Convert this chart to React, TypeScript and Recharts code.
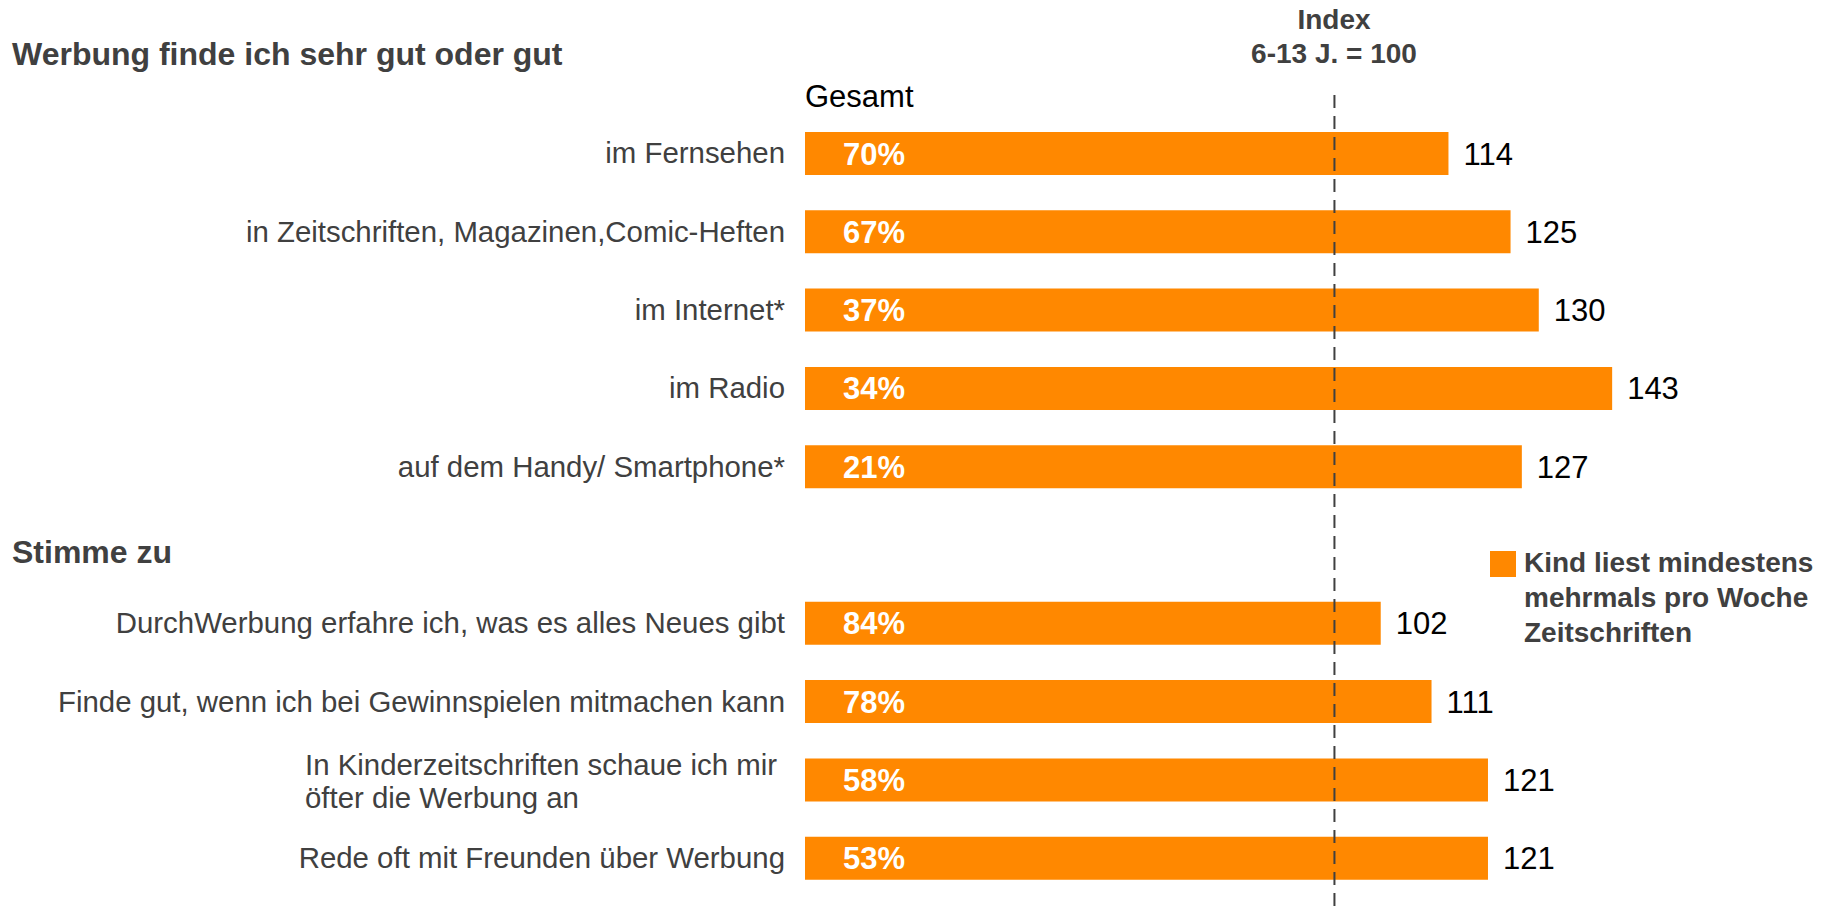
import React from 'react';
import { BarChart, Bar, XAxis, YAxis, LabelList, ReferenceLine, Legend } from 'recharts';

const categories = [
  'im Fernsehen',
  'in Zeitschriften, Magazinen,Comic-Heften',
  'im Internet*',
  'im Radio',
  'auf dem Handy/ Smartphone*',
  '',
  'DurchWerbung erfahre ich, was es alles Neues gibt',
  'Finde gut, wenn ich bei Gewinnspielen mitmachen kann',
  'In Kinderzeitschriften schaue ich mir\nöfter die Werbung an',
  'Rede oft mit Freunden über Werbung',
];
const gesamtPct: (number | null)[] = [70, 67, 37, 34, 21, null, 84, 78, 58, 53];
const indexValues: (number | null)[] = [114, 125, 130, 143, 127, null, 102, 111, 121, 121];
const sectionTitles = ['Werbung finde ich sehr gut oder gut', 'Stimme zu'];
const indexTitle = ['Index', '6-13 J. = 100'];
const gesamtTitle = 'Gesamt';
const seriesName = ['Kind liest mindestens', 'mehrmals pro Woche', 'Zeitschriften'];
const indexLineValue = 93.8;

const data = categories.map((c, i) => ({ name: c, gesamt: gesamtPct[i], index: indexValues[i] }));

const ORANGE = '#FF8800';
const GREY = '#404040';
const FONT = '"Liberation Sans", Arial, sans-serif';

const CategoryTick = (props: any) => {
  const { x, y, payload } = props;
  const value = String(payload?.value ?? '');
  if (!value) return null;
  const lines = value.split('\n');
  if (lines.length === 1) {
    return (
      <text x={x} y={y} dy="0.35em" textAnchor="end" fill={GREY} fontSize={29.4} fontFamily={FONT}>
        {value}
      </text>
    );
  }
  const left = x - 480;
  return (
    <text x={left} y={y} textAnchor="start" fill={GREY} fontSize={29.4} fontFamily={FONT}>
      {lines.map((l, i) => (
        <tspan key={i} x={left} y={y - 15 + i * 33} dy="0.35em">
          {l}
        </tspan>
      ))}
    </text>
  );
};

const DashedIndexLine = (props: any) => {
  const { x1, y1, x2, y2 } = props;
  const top = Math.min(y1, y2) - 19;
  const bottom = Math.max(y1, y2) + 9;
  return <line x1={x1} x2={x2} y1={top} y2={bottom} stroke={GREY} strokeWidth={2} strokeDasharray="13 8" />;
};

const LegendBox = () => (
  <div style={{ display: 'flex', alignItems: 'flex-start', fontFamily: FONT }}>
    <div style={{ width: 26, height: 26, background: ORANGE, marginTop: 6, marginRight: 8, flex: 'none' }} />
    <div style={{ color: GREY, fontWeight: 'bold', fontSize: 28, lineHeight: '35px' }}>
      {seriesName.map((s, i) => (
        <div key={i} style={{ whiteSpace: 'nowrap' }}>{s}</div>
      ))}
    </div>
  </div>
);

export default function App() {
  return (
    <div style={{ position: 'absolute', left: 0, top: 0, width: 1843, height: 906, background: '#fff', fontFamily: FONT }}>
      <BarChart
        width={1843}
        height={906}
        data={data}
        layout="vertical"
        margin={{ top: 114, right: 22, bottom: 9, left: 0 }}
        barCategoryGap={0}
      >
        <XAxis type="number" domain={[0, 180]} hide />
        <YAxis
          type="category"
          dataKey="name"
          width={805}
          axisLine={false}
          tickLine={false}
          tickSize={0}
          tickMargin={20}
          interval={0}
          tick={<CategoryTick />}
        />
        <Legend
          layout="vertical"
          align="center"
          verticalAlign="middle"
          wrapperStyle={{ position: 'absolute', left: 1490, top: 545, width: 350, height: 110 }}
          content={() => <LegendBox />}
        />
        <Bar dataKey="index" fill={ORANGE} barSize={43} isAnimationActive={false} name={seriesName.join(' ')}>
          <LabelList
            dataKey="gesamt"
            position="insideLeft"
            offset={38}
            fill="#ffffff"
            fontSize={31}
            fontWeight="bold"
            fontFamily={FONT}
            formatter={(v: any) => (v == null ? '' : `${v}%`)}
          />
          <LabelList dataKey="index" position="right" offset={15} fill="#000000" fontSize={31} fontFamily={FONT} />
        </Bar>
        <ReferenceLine x={indexLineValue} shape={<DashedIndexLine />} ifOverflow="visible" />
      </BarChart>
      <svg
        width={1843}
        height={906}
        style={{ position: 'absolute', left: 0, top: 0, pointerEvents: 'none' }}
      >
        <text x={12} y={65} fill={GREY} fontSize={32} fontWeight="bold" fontFamily={FONT}>
          {sectionTitles[0]}
        </text>
        <text x={12} y={563} fill={GREY} fontSize={32} fontWeight="bold" fontFamily={FONT}>
          {sectionTitles[1]}
        </text>
        <text x={1334} y={29} textAnchor="middle" fill={GREY} fontSize={28} fontWeight="bold" fontFamily={FONT}>
          {indexTitle[0]}
        </text>
        <text x={1334} y={63} textAnchor="middle" fill={GREY} fontSize={28} fontWeight="bold" fontFamily={FONT}>
          {indexTitle[1]}
        </text>
        <text x={805} y={107} fill="#000" fontSize={31} fontFamily={FONT}>
          {gesamtTitle}
        </text>
      </svg>
    </div>
  );
}
